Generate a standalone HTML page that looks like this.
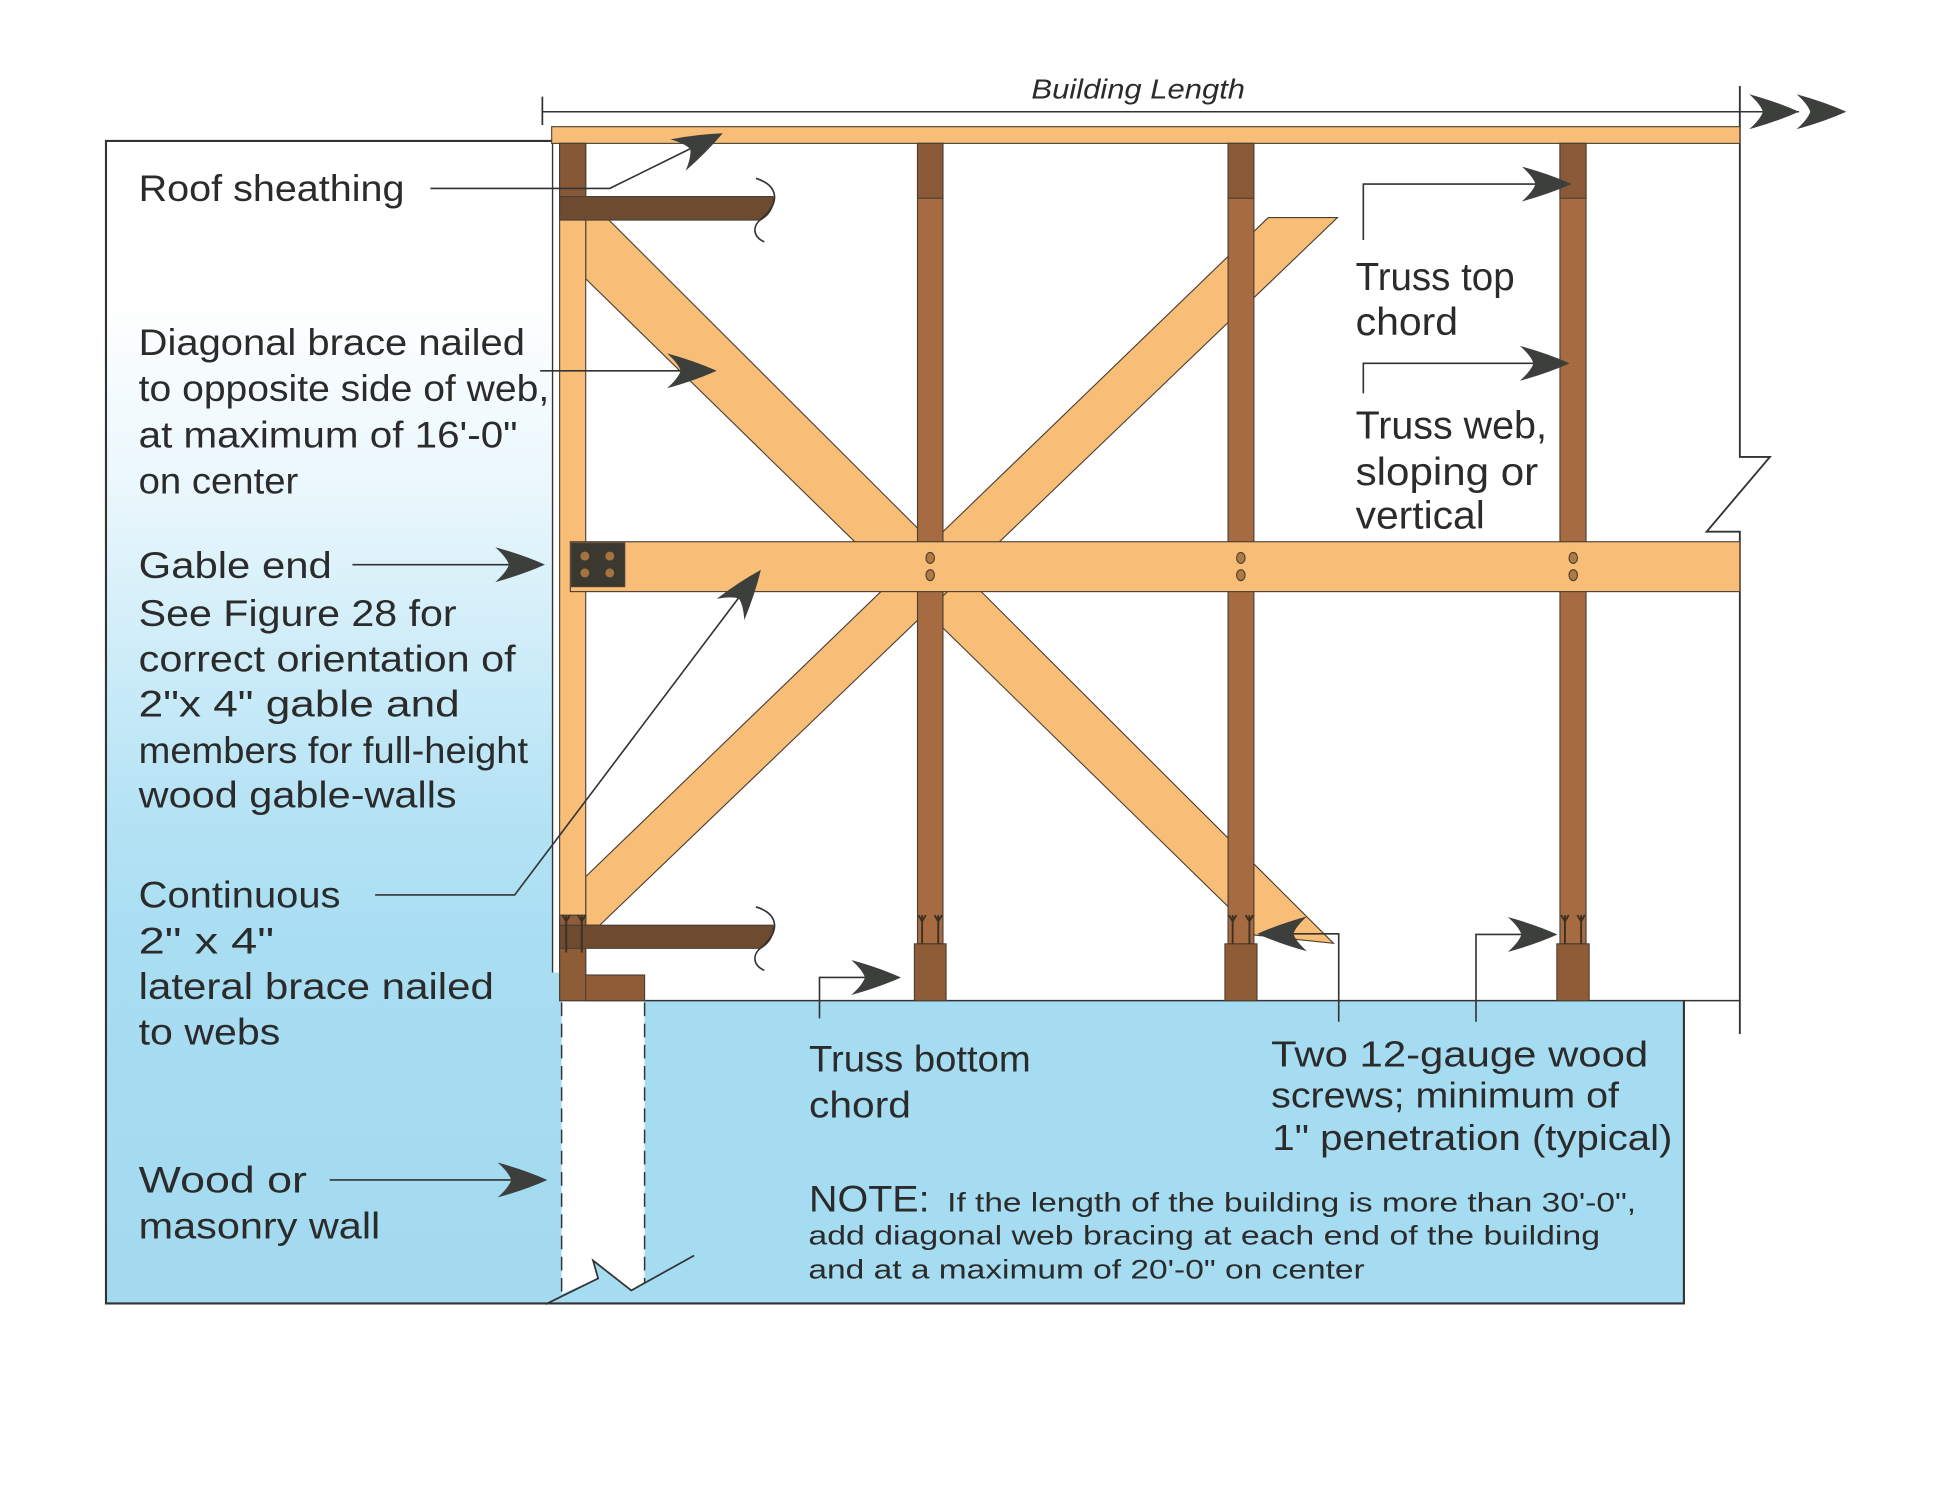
<!DOCTYPE html>
<html>
<head>
<meta charset="utf-8">
<style>
html,body{margin:0;padding:0;background:#fff;}
svg{display:block;}
text{font-family:"Liberation Sans",sans-serif;fill:#2b2b2b;}
</style>
</head>
<body>
<svg xmlns="http://www.w3.org/2000/svg" width="1945" height="1511" viewBox="0 0 1560 1211.9" preserveAspectRatio="none">
<defs>
<linearGradient id="lg" gradientUnits="userSpaceOnUse" x1="0" y1="113" x2="0" y2="1045">
 <stop offset="0" stop-color="#ffffff"/>
 <stop offset="0.13" stop-color="#ffffff"/>
 <stop offset="0.3" stop-color="#eaf7fc"/>
 <stop offset="0.42" stop-color="#d2eef9"/>
 <stop offset="0.57" stop-color="#b6e3f5"/>
 <stop offset="0.7" stop-color="#a8ddf2"/>
 <stop offset="1" stop-color="#a3daf0"/>
</linearGradient>
<path id="ah" d="M0,0 Q-18,-8 -40,-14 Q-31,-6 -29,0 Q-31,6 -40,14 Q-18,8 0,0 Z" fill="#3d3f3c"/>
</defs>

<rect x="0" y="0" width="1560" height="1212" fill="#ffffff"/>

<g transform="translate(0.32,0) scale(0.9963,1)">

<!-- left panel -->
<rect x="85" y="113" width="366.8" height="932.4" fill="url(#lg)"/>
<rect x="444.5" y="113" width="7.3" height="667" fill="#ffffff"/>
<!-- bottom panel -->
<rect x="451.8" y="802.6" width="903.5" height="242.8" fill="#a5dcf1"/>
<!-- white wall -->
<polygon points="451.8,802.6 518.6,802.6 518.6,1029.1 507.9,1035 477.1,1011 481.2,1025.4 451.8,1037.8" fill="#ffffff"/>

<!-- borders -->
<polyline points="444.5,113 85,113 85,1045.4 1355.3,1045.4 1355.3,802.6" fill="none" stroke="#333" stroke-width="1.7"/>
<line x1="444.5" y1="113" x2="444.5" y2="780" stroke="#333" stroke-width="1.1"/>
<line x1="471" y1="802.6" x2="1400.3" y2="802.6" stroke="#333" stroke-width="1.2"/>
<path d="M1400.3,69 V366.5 H1424.5 L1373.6,426.4 H1400.3 V829.3" fill="none" stroke="#333" stroke-width="1.5"/>
<line x1="451.8" y1="804" x2="451.8" y2="1037" stroke="#333" stroke-width="1.2" stroke-dasharray="11 6"/>
<line x1="518.6" y1="804" x2="518.6" y2="1029" stroke="#333" stroke-width="1.2" stroke-dasharray="11 6"/>
<polyline points="439,1046 481.2,1025.4 477.1,1011 507.9,1035 558.5,1007" fill="none" stroke="#333" stroke-width="1.4"/>

<!-- dimension line -->
<line x1="436.3" y1="89.6" x2="1448" y2="89.6" stroke="#333" stroke-width="1.2"/>
<line x1="436.3" y1="77.5" x2="436.3" y2="100.3" stroke="#333" stroke-width="1.4"/>
<text x="830" y="79" font-size="22" font-style="italic" textLength="172" lengthAdjust="spacingAndGlyphs">Building Length</text>

<!-- frame -->
<g stroke="#4b3f33" stroke-width="0.9">
<rect x="443.8" y="101.6" width="956.5" height="13.4" fill="#f8be78"/>
<polygon points="471.2,176 489.4,176 1073.2,756.6 1010,750 995,733.7 471.2,223.6" fill="#f8be78"/>
<polygon points="1020.7,174.5 1076.4,174.5 482.5,742 471.2,742 471.2,703.1" fill="#f8be78"/>
<!-- gable column -->
<rect x="450.2" y="115" width="21" height="687.6" fill="#f8be78"/>
<rect x="450.2" y="115" width="21" height="42.7" fill="#875838"/>
<rect x="450.2" y="734" width="21" height="68.6" fill="#8e5c37"/>
<!-- columns -->
<rect x="738.3" y="115" width="20.5" height="642" fill="#a66b40"/>
<rect x="738.3" y="115" width="20.5" height="44" fill="#8a5a38"/>
<rect x="735.8" y="757" width="25.5" height="45.6" fill="#8e5c37"/>
<rect x="988.3" y="115" width="20.8" height="642" fill="#a66b40"/>
<rect x="988.3" y="115" width="20.8" height="44" fill="#8a5a38"/>
<rect x="985.8" y="757" width="25.8" height="45.6" fill="#8e5c37"/>
<rect x="1255.5" y="115" width="21" height="642" fill="#a66b40"/>
<rect x="1255.5" y="115" width="21" height="44" fill="#8a5a38"/>
<rect x="1253" y="757" width="26" height="45.6" fill="#8e5c37"/>
<!-- sheathing bars -->
<path d="M450.2,157.7 L622,157.7 C623,165 620,172 612,176.5 L450.2,176.5 Z" fill="#6d4b30"/>
<path d="M450.2,742 L622,742 C623,749 620,756 612,760.6 L450.2,760.6 Z" fill="#6d4b30"/>
<!-- wall plate -->
<rect x="471.2" y="782" width="47.4" height="20.6" fill="#8e5c37"/>
<!-- mid beam -->
<rect x="458.8" y="434.5" width="941.5" height="40" fill="#f8be78"/>
<rect x="459.8" y="435.5" width="42.8" height="35" fill="#3b3830"/>
</g>

<!-- squiggles -->
<path d="M608.2,143 C627,149 628,163 612,176 C605,182 606,190 615,194" fill="none" stroke="#333" stroke-width="1.3"/>
<path d="M608.2,727.3 C627,733.3 628,747.3 612,760.3 C605,766.3 606,774.3 615,778.3" fill="none" stroke="#333" stroke-width="1.3"/>

<!-- gusset dots -->
<g fill="#a4733f">
<circle cx="470.5" cy="446" r="3.6"/><circle cx="490.6" cy="446" r="3.6"/>
<circle cx="470.5" cy="459.5" r="3.6"/><circle cx="490.6" cy="459.5" r="3.6"/>
</g>
<!-- beam dots -->
<g fill="#b07a45" stroke="#4b3f33" stroke-width="0.9">
<ellipse cx="748.5" cy="447.5" rx="3.4" ry="4.4"/><ellipse cx="748.5" cy="461.3" rx="3.4" ry="4.4"/>
<ellipse cx="998.6" cy="447.5" rx="3.4" ry="4.4"/><ellipse cx="998.6" cy="461.3" rx="3.4" ry="4.4"/>
<ellipse cx="1266.2" cy="447.5" rx="3.4" ry="4.4"/><ellipse cx="1266.2" cy="461.3" rx="3.4" ry="4.4"/>
</g>

<!-- hangers -->
<g fill="none" stroke="#3a3026" stroke-width="1.5">
<path d="M742,734 v23 M739,734 l3,5 l3,-5 M755,734 v23 M752,734 l3,5 l3,-5"/>
<path d="M992,734 v23 M989,734 l3,5 l3,-5 M1005.5,734 v23 M1002.5,734 l3,5 l3,-5"/>
<path d="M1259.5,734 v23 M1256.5,734 l3,5 l3,-5 M1272.5,734 v23 M1269.5,734 l3,5 l3,-5"/>
<path d="M455.5,734 v30 M452.5,734 l3,5 l3,-5 M468,734 v30 M465,734 l3,5 l3,-5"/>
</g>

<!-- leader lines -->
<g fill="none" stroke="#333" stroke-width="1.3">
<path d="M346.2,151.1 H490.6 L560,117"/>
<path d="M434.5,297.4 H560"/>
<path d="M283.4,452.9 H420"/>
<path d="M301.7,717.8 H414 L600,472"/>
<path d="M265.1,946.4 H420"/>
<path d="M1097.2,192.5 V147.6 H1250"/>
<path d="M1097.2,315.5 V291.4 H1250"/>
<path d="M659.4,816.8 V784 H710"/>
<path d="M1077.4,819.5 V749 H1025"/>
<path d="M1187.9,819.5 V749.5 H1240"/>
</g>

<!-- arrowheads -->
<use href="#ah" transform="translate(1447.9,89.6)"/>
<use href="#ah" transform="translate(1486,89.6)"/>
<use href="#ah" transform="translate(581.5,106.9) rotate(-25.9)"/>
<use href="#ah" transform="translate(576.7,297.4)"/>
<use href="#ah" transform="translate(438.4,452.9)"/>
<use href="#ah" transform="translate(612.2,457.1) rotate(-52.4)"/>
<use href="#ah" transform="translate(440.3,946.4)"/>
<use href="#ah" transform="translate(1264.8,147.6)"/>
<use href="#ah" transform="translate(1263.2,291.4)"/>
<use href="#ah" transform="translate(725,784)"/>
<use href="#ah" transform="translate(1011.9,749) rotate(180)"/>
<use href="#ah" transform="translate(1253.5,749.5)"/>

<!-- left labels -->
<g font-size="29.5">
<text x="111.3" y="161.4" textLength="214" lengthAdjust="spacingAndGlyphs">Roof sheathing</text>
<text x="111.3" y="284.8" textLength="311" lengthAdjust="spacingAndGlyphs">Diagonal brace nailed</text>
<text x="111.3" y="321.6" textLength="330.5" lengthAdjust="spacingAndGlyphs">to opposite side of web,</text>
<text x="111.3" y="358.8" textLength="305" lengthAdjust="spacingAndGlyphs">at maximum of 16'-0"</text>
<text x="111.3" y="395.7" textLength="128.5" lengthAdjust="spacingAndGlyphs">on center</text>
<text x="111.3" y="463.6" textLength="155.5" lengthAdjust="spacingAndGlyphs">Gable end</text>
<text x="111.3" y="501.9" textLength="256" lengthAdjust="spacingAndGlyphs">See Figure 28 for</text>
<text x="111.3" y="538.7" textLength="303.5" lengthAdjust="spacingAndGlyphs">correct orientation of</text>
<text x="111.3" y="574.5" textLength="258.5" lengthAdjust="spacingAndGlyphs">2"x 4" gable and</text>
<text x="111.3" y="612.1" textLength="313.5" lengthAdjust="spacingAndGlyphs">members for full-height</text>
<text x="111.3" y="647.8" textLength="256" lengthAdjust="spacingAndGlyphs">wood gable-walls</text>
<text x="111.3" y="727.7" textLength="162.5" lengthAdjust="spacingAndGlyphs">Continuous</text>
<text x="111.3" y="764.6" textLength="109" lengthAdjust="spacingAndGlyphs">2" x 4"</text>
<text x="111.3" y="801.2" textLength="286" lengthAdjust="spacingAndGlyphs">lateral brace nailed</text>
<text x="111.3" y="837.6" textLength="114" lengthAdjust="spacingAndGlyphs">to webs</text>
<text x="111.3" y="956.6" textLength="135.5" lengthAdjust="spacingAndGlyphs">Wood or</text>
<text x="111.3" y="993.2" textLength="194.5" lengthAdjust="spacingAndGlyphs">masonry wall</text>
</g>

<!-- right labels -->
<g font-size="31">
<text x="1091" y="232.6" textLength="128" lengthAdjust="spacingAndGlyphs">Truss top</text>
<text x="1091" y="268.7" textLength="82.5" lengthAdjust="spacingAndGlyphs">chord</text>
<text x="1091" y="351.6" textLength="154" lengthAdjust="spacingAndGlyphs">Truss web,</text>
<text x="1091" y="389" textLength="147" lengthAdjust="spacingAndGlyphs">sloping or</text>
<text x="1091" y="423.7" textLength="104" lengthAdjust="spacingAndGlyphs">vertical</text>
</g>

<!-- bottom labels -->
<g font-size="30">
<text x="651" y="859.5" textLength="178.5" lengthAdjust="spacingAndGlyphs">Truss bottom</text>
<text x="651" y="896.4" textLength="82" lengthAdjust="spacingAndGlyphs">chord</text>
</g>
<g font-size="29">
<text x="1023" y="855.5" textLength="303.5" lengthAdjust="spacingAndGlyphs">Two 12-gauge wood</text>
<text x="1023" y="888.4" textLength="280" lengthAdjust="spacingAndGlyphs">screws; minimum of</text>
<text x="1024" y="922.4" textLength="322" lengthAdjust="spacingAndGlyphs">1" penetration (typical)</text>
</g>
<text x="651" y="971.8" font-size="29.5" textLength="97" lengthAdjust="spacingAndGlyphs">NOTE:</text>
<g font-size="21.5">
<text x="762.2" y="971.8" textLength="554.6" lengthAdjust="spacingAndGlyphs">If the length of the building is more than 30'-0",</text>
<text x="650.5" y="998" textLength="637.3" lengthAdjust="spacingAndGlyphs">add diagonal web bracing at each end of the building</text>
<text x="650.5" y="1025.3" textLength="447.8" lengthAdjust="spacingAndGlyphs">and at a maximum of 20'-0" on center</text>
</g>

</g>
</svg>
</body>
</html>
